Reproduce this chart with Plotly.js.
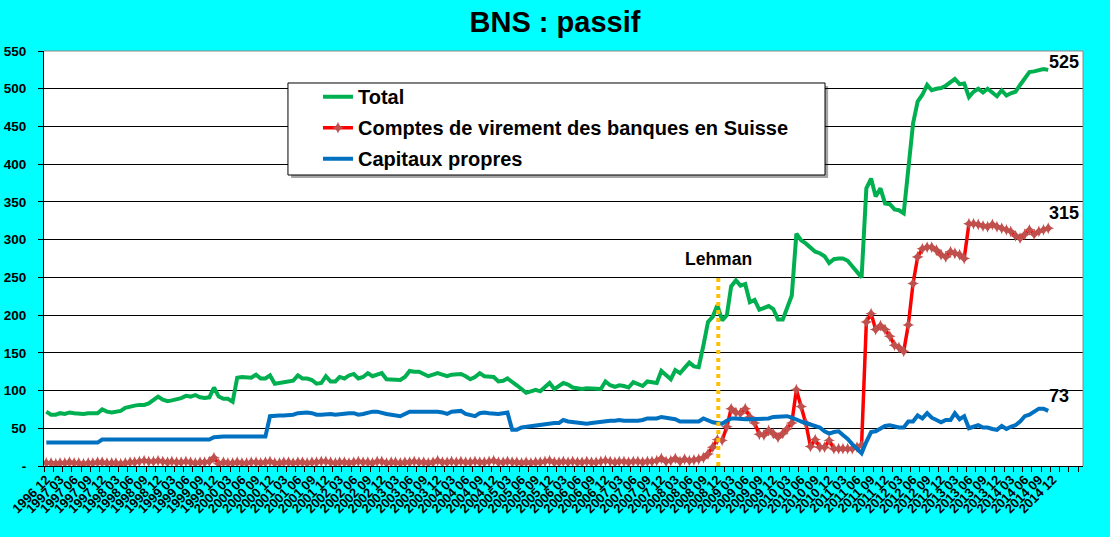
<!DOCTYPE html>
<html>
<head>
<meta charset="utf-8">
<script src="https://cdn.plot.ly/plotly-3.0.1.min.js"></script>
<style>html,body{margin:0;padding:0;background:#00FFFF;}#chart{width:1110px;height:537px;}</style>
</head>
<body>
<div id="chart"></div>
<script>
// ---- Data (monthly, 1996-12 .. 2014-11, CHF bn) ----
const startYear = 1996, startMonth = 12;
const seriesNames = ["Total", "Comptes de virement des banques en Suisse", "Capitaux propres"];

const total = [
 72,68,68,70,69,71,70,69,69,70,70,70,
 75,72,71,72,73,77,79,80,81,81,83,87,
 92,88,86,87,88,90,93,92,94,91,90,91,
 104,92,89,89,85,117,118,118,117,121,116,116,
 120,109,110,111,112,113,120,116,116,114,109,110,
 119,112,112,118,116,120,122,116,118,123,119,121,
 123,115,115,115,114,118,126,125,125,122,119,121,
 123,121,119,121,122,122,119,115,118,123,119,119,
 118,112,113,116,112,107,102,97,99,101,99,104,
 110,102,106,110,108,104,103,102,103,103,103,102,
 112,107,105,107,106,104,111,108,106,112,111,110,
 126,120,115,127,123,130,137,132,131,160,191,198,
 213,193,200,238,246,239,241,217,220,207,210,212,
 208,194,194,208,226,308,299,295,289,284,282,278,
 269,274,275,275,272,265,257,250,368,381,357,368,
 348,347,340,339,335,397,454,483,492,505,498,500,
 501,504,508,513,506,507,489,496,500,495,500,494,
 490,498,491,494,496,505,514,522,523,524,526,525
];

const comptes = [
 4,4,3,4,4,5,4,4,3,4,4,5,
 5,4,4,4,3,4,5,5,6,7,6,6,
 7,6,5,6,5,5,6,5,4,5,5,6,
 11,3,5,4,4,5,4,4,5,5,4,5,
 6,4,4,5,5,4,5,5,4,5,5,6,
 6,5,4,5,5,4,5,6,5,5,4,6,
 6,4,5,5,4,5,5,6,5,5,4,5,
 7,5,5,6,5,6,5,5,6,5,5,6,
 7,5,5,6,5,5,4,5,4,5,5,6,
 7,5,5,6,5,6,5,5,6,5,5,6,
 7,6,5,6,6,5,6,6,5,6,6,7,
 10,6,7,10,6,9,7,8,9,11,16,25,
 35,34,52,76,71,70,76,65,57,42,41,47,
 43,38,43,49,57,101,79,57,26,35,25,25,
 34,23,23,23,23,23,25,28,191,202,181,186,
 181,172,160,157,152,187,242,277,288,290,290,286,
 280,277,284,282,280,275,321,321,320,318,317,320,
 317,315,313,311,305,302,307,313,307,311,313,315
];

const capitaux = [
 31,31,31,31,31,31,31,31,31,31,31,31,
 35,35,35,35,35,35,35,35,35,35,35,35,
 35,35,35,35,35,35,35,35,35,35,35,35,
 38,39,39,39,39,39,39,39,39,39,39,39,
 66,67,67,67,67,68,70,71,71,70,68,68,
 69,69,68,69,70,70,70,68,69,71,72,72,
 70,69,68,67,66,69,72,72,72,72,73,73,
 72,71,69,72,73,73,69,67,66,70,71,70,
 69,69,70,71,48,48,51,52,52,53,54,55,
 57,57,57,61,59,58,57,56,56,57,58,59,
 60,60,60,61,60,60,59,60,61,63,63,63,
 65,64,64,62,59,59,59,59,59,63,60,58,
 57,56,60,63,63,62,62,62,62,63,63,63,
 65,65,66,66,64,61,59,57,55,54,51,46,
 43,45,46,41,36,29,22,17,32,45,46,50,
 53,54,52,51,51,59,59,67,63,70,64,61,
 58,61,61,70,62,66,50,52,54,51,51,49,
 48,53,49,52,54,59,66,68,72,76,76,73
];

const yTickVals = [0,50,100,150,200,250,300,350,400,450,500,550];
const yTickText = ["-","50","100","150","200","250","300","350","400","450","500","550"];
const labelFirst = "1996-12", labelLast = "2014-12"; // quarterly axis labels
const lehmanDate = "2008-12-07", lehmanTop = 249, lehmanLabel = "Lehman";

// ---- helpers ----
function monthStr(k){
  const y = startYear + Math.floor((startMonth - 1 + k) / 12);
  const m = (startMonth - 1 + k) % 12 + 1;
  return y + "-" + String(m).padStart(2, "0");
}
const months = total.map((_, k) => monthStr(k) + "-01");
const tickVals = [], tickText = [];
for (let k = 0; ; k += 3) {
  const s = monthStr(k);
  tickVals.push(s + "-01");
  tickText.push(s.replace("-", " "));
  if (s === labelLast) break;
}

const FONT = "Liberation Sans, Arial, sans-serif";
const traces = [
  {x: months, y: total, name: seriesNames[0], type: "scatter", mode: "lines",
   line: {color: "#00B050", width: 4}, legendgroup: "a"},
  {x: months, y: comptes, name: seriesNames[1], type: "scatter", mode: "lines+markers",
   line: {color: "#FF0000", width: 3.5},
   marker: {symbol: "star-diamond", size: 8.5, color: "#C0504D"}, legendgroup: "b"},
  {x: months, y: capitaux, name: seriesNames[2], type: "scatter", mode: "lines",
   line: {color: "#0070C0", width: 4}, legendgroup: "c"}
];

const last = months.length - 1;
const endLabel = (arr, ys) => ({
  x: months[last], y: arr[last], xref: "x", yref: "y", text: String(arr[last]),
  showarrow: false, xanchor: "left", yanchor: "middle", xshift: -1, yshift: ys,
  font: {family: FONT, size: 18, color: "#000", weight: "bold"}
});

const layout = {
  width: 1110, height: 537,
  paper_bgcolor: "#00FFFF", plot_bgcolor: "#FFFFFF",
  margin: {l: 44, r: 27, t: 51, b: 71, pad: 0},
  title: {text: "BNS : passif", x: 0.5, xref: "container", y: 0.959, yref: "container",
          yanchor: "middle", font: {family: FONT, size: 29, color: "#000", weight: "bold"}},
  showlegend: true,
  legend: {x: 0.2637, y: 0.937, xanchor: "left", yanchor: "top",
           bgcolor: "rgba(0,0,0,0)", borderwidth: 0, tracegroupgap: 2,
           font: {family: FONT, size: 20, color: "#000", weight: "bold"}},
  xaxis: {type: "date", range: ["1996-11-16", "2015-06-16"],
          tickmode: "array", tickvals: tickVals, ticktext: tickText, tickangle: -45,
          ticks: "", showgrid: false, zeroline: false,
          showline: true, linecolor: "#000", linewidth: 1,
          tickfont: {family: FONT, size: 13, color: "#000", weight: "bold"},
          minor: {tickmode: "linear", tick0: "1996-11-16", dtick: "M2", ticks: "outside",
                  ticklen: 5, tickcolor: "#000", tickwidth: 1, showgrid: false}},
  yaxis: {range: [0, 550], tickmode: "array", tickvals: yTickVals, ticktext: yTickText,
          showgrid: true, gridcolor: "#000", gridwidth: 1, zeroline: false,
          showline: true, linecolor: "#000", linewidth: 1,
          ticks: "outside", ticklen: 5, tickcolor: "#000", ticklabelstandoff: 9,
          tickfont: {family: FONT, size: 13.5, color: "#000", weight: "bold"}},
  shapes: [
    {type: "path", xref: "paper", yref: "paper", path: "M 0,1 L 1,1 L 1,0",
     line: {color: "#888", width: 1}, layer: "above"},
    {type: "line", xref: "x", yref: "y", x0: lehmanDate, x1: lehmanDate, y0: 0, y1: lehmanTop,
     line: {color: "#FFC000", width: 4, dash: "dot"}, layer: "above"},
    {type: "rect", xref: "paper", yref: "paper", x0: 0.2378, x1: 0.7547, y0: 0.6940, y1: 0.9157,
     fillcolor: "rgba(0,0,0,0.35)", line: {width: 0}, layer: "above"},
    {type: "rect", xref: "paper", yref: "paper", x0: 0.2348, x1: 0.7517, y0: 0.7012, y1: 0.9229,
     fillcolor: "#FFFFFF", line: {color: "#000", width: 1}, layer: "above"}
  ],
  annotations: [
    {x: lehmanDate, y: 274, xref: "x", yref: "y", text: lehmanLabel, showarrow: false,
     font: {family: FONT, size: 17.5, color: "#000", weight: "bold"}},
    endLabel(total, 8),
    endLabel(comptes, 15),
    endLabel(capitaux, 15)
  ]
};

Plotly.newPlot("chart", traces, layout, {displayModeBar: false, staticPlot: true});
</script>
</body>
</html>
